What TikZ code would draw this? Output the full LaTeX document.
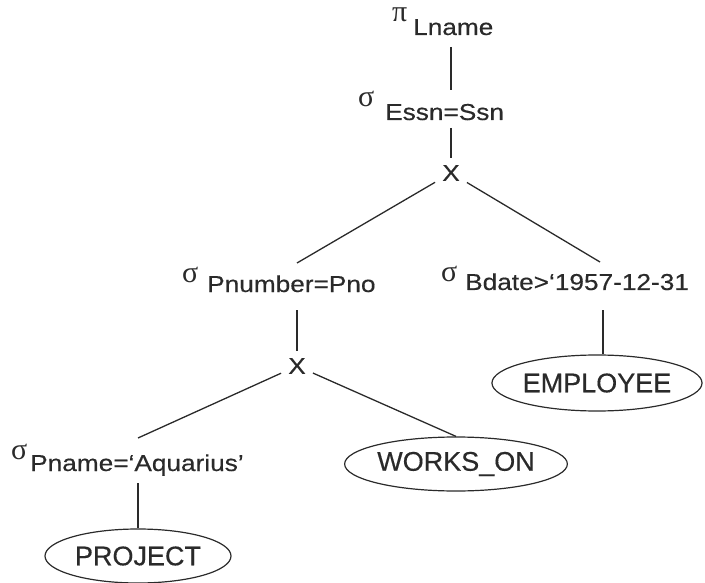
\documentclass[tikz,border=0pt]{standalone}
\usepackage{fontspec}
\setmainfont{Liberation Sans}[FakeStretch=1.14,FakeBold=0.4]
\newfontfamily\relfont{Liberation Sans}[FakeBold=0.4]
\newfontfamily\greekfont{Liberation Serif}
\usetikzlibrary{shapes.geometric,calc}
\definecolor{ink}{HTML}{2A2A2A}

\begin{document}
\begin{tikzpicture}[x=1pt,y=-1pt,
  lbl/.style={anchor=base west,inner sep=0pt,text=ink,
    font=\fontsize{23}{27}\selectfont},
  op/.style={anchor=base west,inner sep=0pt,text=ink,
    font=\greekfont\fontsize{30}{34}\selectfont},
  cross/.style={inner sep=7pt,text=ink,font=\fontsize{23}{27}\selectfont},
  rel/.style={ellipse,draw=ink,line width=1.2pt,inner sep=0pt,text=ink,
    font=\relfont\fontsize{27}{31}\selectfont},
  edge/.style={draw=ink,line width=1.3pt}]

\useasboundingbox (0,0) rectangle (705,583);

% projection and top selection
\node[op]  (pi)    at (392,22)  {π};
\node[lbl] (lname) at (413,35)  {Lname};
\node[op]  (s1)    at (358,107) {σ};
\node[lbl] (essn)  at (385,120) {Essn=Ssn};
\node[cross] (x1)  at (451,173) {X};

% left branch
\node[op]  (s2)    at (182,283) {σ};
\node[lbl] (pnum)  at (207,292) {Pnumber=Pno};
\node[cross] (x2)  at (297,366) {X};
\node[op]  (s4)    at (11,459)  {σ};
\node[lbl] (pname) at (30,471)  {Pname=‘Aquarius'};
\node[rel,minimum width=186pt,minimum height=54pt] (project) at (138,556) {PROJECT};
\node[rel,minimum width=198pt,minimum height=54pt] (works)   at (456,464) {WORKS\_ON};

% right branch
\node[op]  (s3)    at (441,282) {σ};
\node[lbl] (bdate) at (465,290) {Bdate>‘1957-12-31};
\node[rel,minimum width=210pt,minimum height=56pt] (employee) at (597,383) {EMPLOYEE};

% tree edges
\draw[edge] ([yshift=-12pt]lname.base -| x1) -- ([yshift=30pt]essn.base -| x1);
\draw[edge] ([yshift=-8pt]essn.base -| x1) -- (x1);
\draw[edge] (x1) -- ([yshift=29pt]pnum.base -| x2);
\draw[edge] (x1) -- ([xshift=135pt,yshift=28pt]bdate.base west);
\draw[edge] ([yshift=-18pt]pnum.base -| x2) -- (x2);
\draw[edge] (x2) -- ([yshift=33pt]pname.base -| project);
\draw[edge] (x2) -- (works.north);
\draw[edge] ([yshift=-12pt]pname.base -| project) -- (project);
\coordinate (bd) at ([xshift=138pt,yshift=-20pt]bdate.base west);
\draw[edge] (bd) -- (bd |- employee.north);
\end{tikzpicture}
\end{document}
